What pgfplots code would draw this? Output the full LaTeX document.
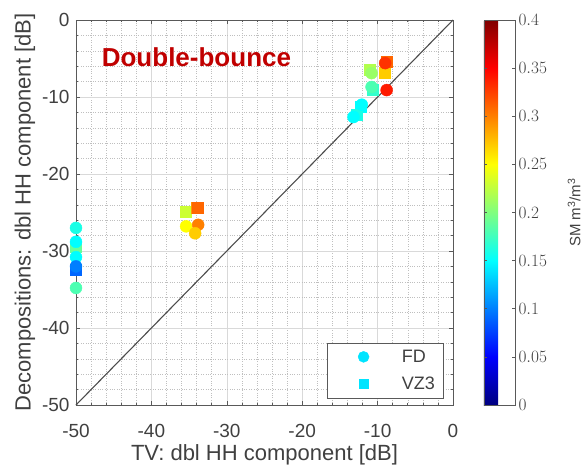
\documentclass[border=0pt]{standalone}
\usepackage{fontspec}
\setmainfont{Liberation Sans}
\usepackage{pgfplots}
\pgfplotsset{compat=1.18}
\definecolor{txt}{RGB}{64,64,64}
\definecolor{titlered}{RGB}{192,0,0}
\definecolor{legcyan}{RGB}{0,228,255}
\begin{document}
\begin{tikzpicture}
\begin{axis}[
  name=main,
  scale only axis, width=377pt, height=385pt,
  xmin=-50, xmax=0, ymin=-50, ymax=0,
  xtick={-50,-40,-30,-20,-10,0}, ytick={-50,-40,-30,-20,-10,0},
  minor tick num=4,
  grid=both,
  major grid style={black!15, line width=0.6pt},
  minor grid style={black!25, dotted, line width=0.5pt},
  tick align=inside,
  axis line style={black!65, line width=0.6pt},
  tick style={black!65, line width=0.6pt},
  major tick length=4pt, minor tick length=2pt,
  clip=false,
  /pgf/number format/assume math mode=true,
  ticklabel style={font=\fontsize{19}{19}\selectfont, text=txt},
  xticklabel style={yshift=-16pt},
  yticklabel style={xshift=-3pt},
  xlabel={TV: dbl HH component [dB]},
  ylabel={Decompositions: dbl HH component [dB]},
  xlabel style={yshift=0pt},
  label style={font=\fontsize{22}{22}\selectfont, text=txt},
  colormap/jet,
  point meta min=0, point meta max=0.4,
  colorbar,
  colorbar style={
    at={(1.0822,1)}, anchor=north west, width=31pt,
    ytick={0,0.05,0.1,0.15,0.2,0.25,0.3,0.35,0.4},
    yticklabel style={font=\fontsize{19}{19}\selectfont, text=txt, /pgf/number format/fixed, /pgf/number format/precision=2},
    ylabel={SM m\textsuperscript{3}/m\textsuperscript{3}},
    ylabel style={font=\fontsize{15}{15}\selectfont, text=txt, yshift=-14pt},
    axis line style={black!65, line width=0.6pt},
    tick style={black!65, line width=0.6pt},
    major tick length=3pt, tick align=inside,
  },
  legend style={at={(0.9735,0.018)}, anchor=south east, draw=black!65,
    font=\fontsize{18}{18}\selectfont, text=txt, inner xsep=6pt, inner ysep=5pt,
    row sep=9pt},
  legend cell align=left,
]
\addlegendimage{legend image code/.code={\path (-30pt,0pt) (36pt,0pt); \draw[only marks, mark=*, mark size=5.5pt, draw=legcyan, fill=legcyan] plot coordinates {(0pt,0pt)};}}
\addlegendentry{FD}
\addlegendimage{legend image code/.code={\path (-30pt,0pt) (36pt,0pt); \draw[only marks, mark=square*, mark size=4.5pt, draw=legcyan, fill=legcyan] plot coordinates {(0pt,0pt)};}}
\addlegendentry{VZ3}

\addplot[black!70, line width=1.1pt, forget plot] coordinates {(-50,-50) (0,0)};

% VZ3 (squares)
\addplot[scatter, only marks, mark=square*, mark size=5.5pt, point meta=explicit,
  scatter/use mapped color={draw=mapped color, fill=mapped color}, forget plot]
table[meta=c] {
x y c
-50 -29.4 0.19
-50 -32.4 0.09
-35.4 -24.9 0.23
-34.0 -24.4 0.29
-33.8 -24.4 0.31
-9.0 -6.9 0.27
-8.8 -5.4 0.31
-11.0 -6.5 0.22
-10.6 -9.1 0.17
-12.3 -11.3 0.15
-12.8 -12.3 0.16
};

% FD (circles)
\addplot[scatter, only marks, mark=*, mark size=6pt, point meta=explicit,
  scatter/use mapped color={draw=mapped color, fill=mapped color}, forget plot]
table[meta=c] {
x y c
-50 -27.0 0.16
-50 -28.8 0.15
-50 -30.8 0.15
-50 -32.0 0.10
-50 -34.8 0.18
-35.4 -26.8 0.25
-33.8 -26.6 0.30
-34.2 -27.7 0.27
-9.0 -5.6 0.33
-8.8 -9.1 0.34
-10.8 -6.9 0.21
-10.8 -8.7 0.18
-12.1 -11.0 0.15
-13.2 -12.6 0.15
};

\node[anchor=west, font=\bfseries\fontsize{26}{26}\selectfont, text=titlered, inner sep=0pt]
  at (axis cs:-46.6,-4.8) {Double-bounce};
\end{axis}
\pgfresetboundingbox
\path[use as bounding box] (main.south west) ++(-76pt,-66pt) rectangle ++(585pt,471pt);
\end{tikzpicture}
\end{document}
